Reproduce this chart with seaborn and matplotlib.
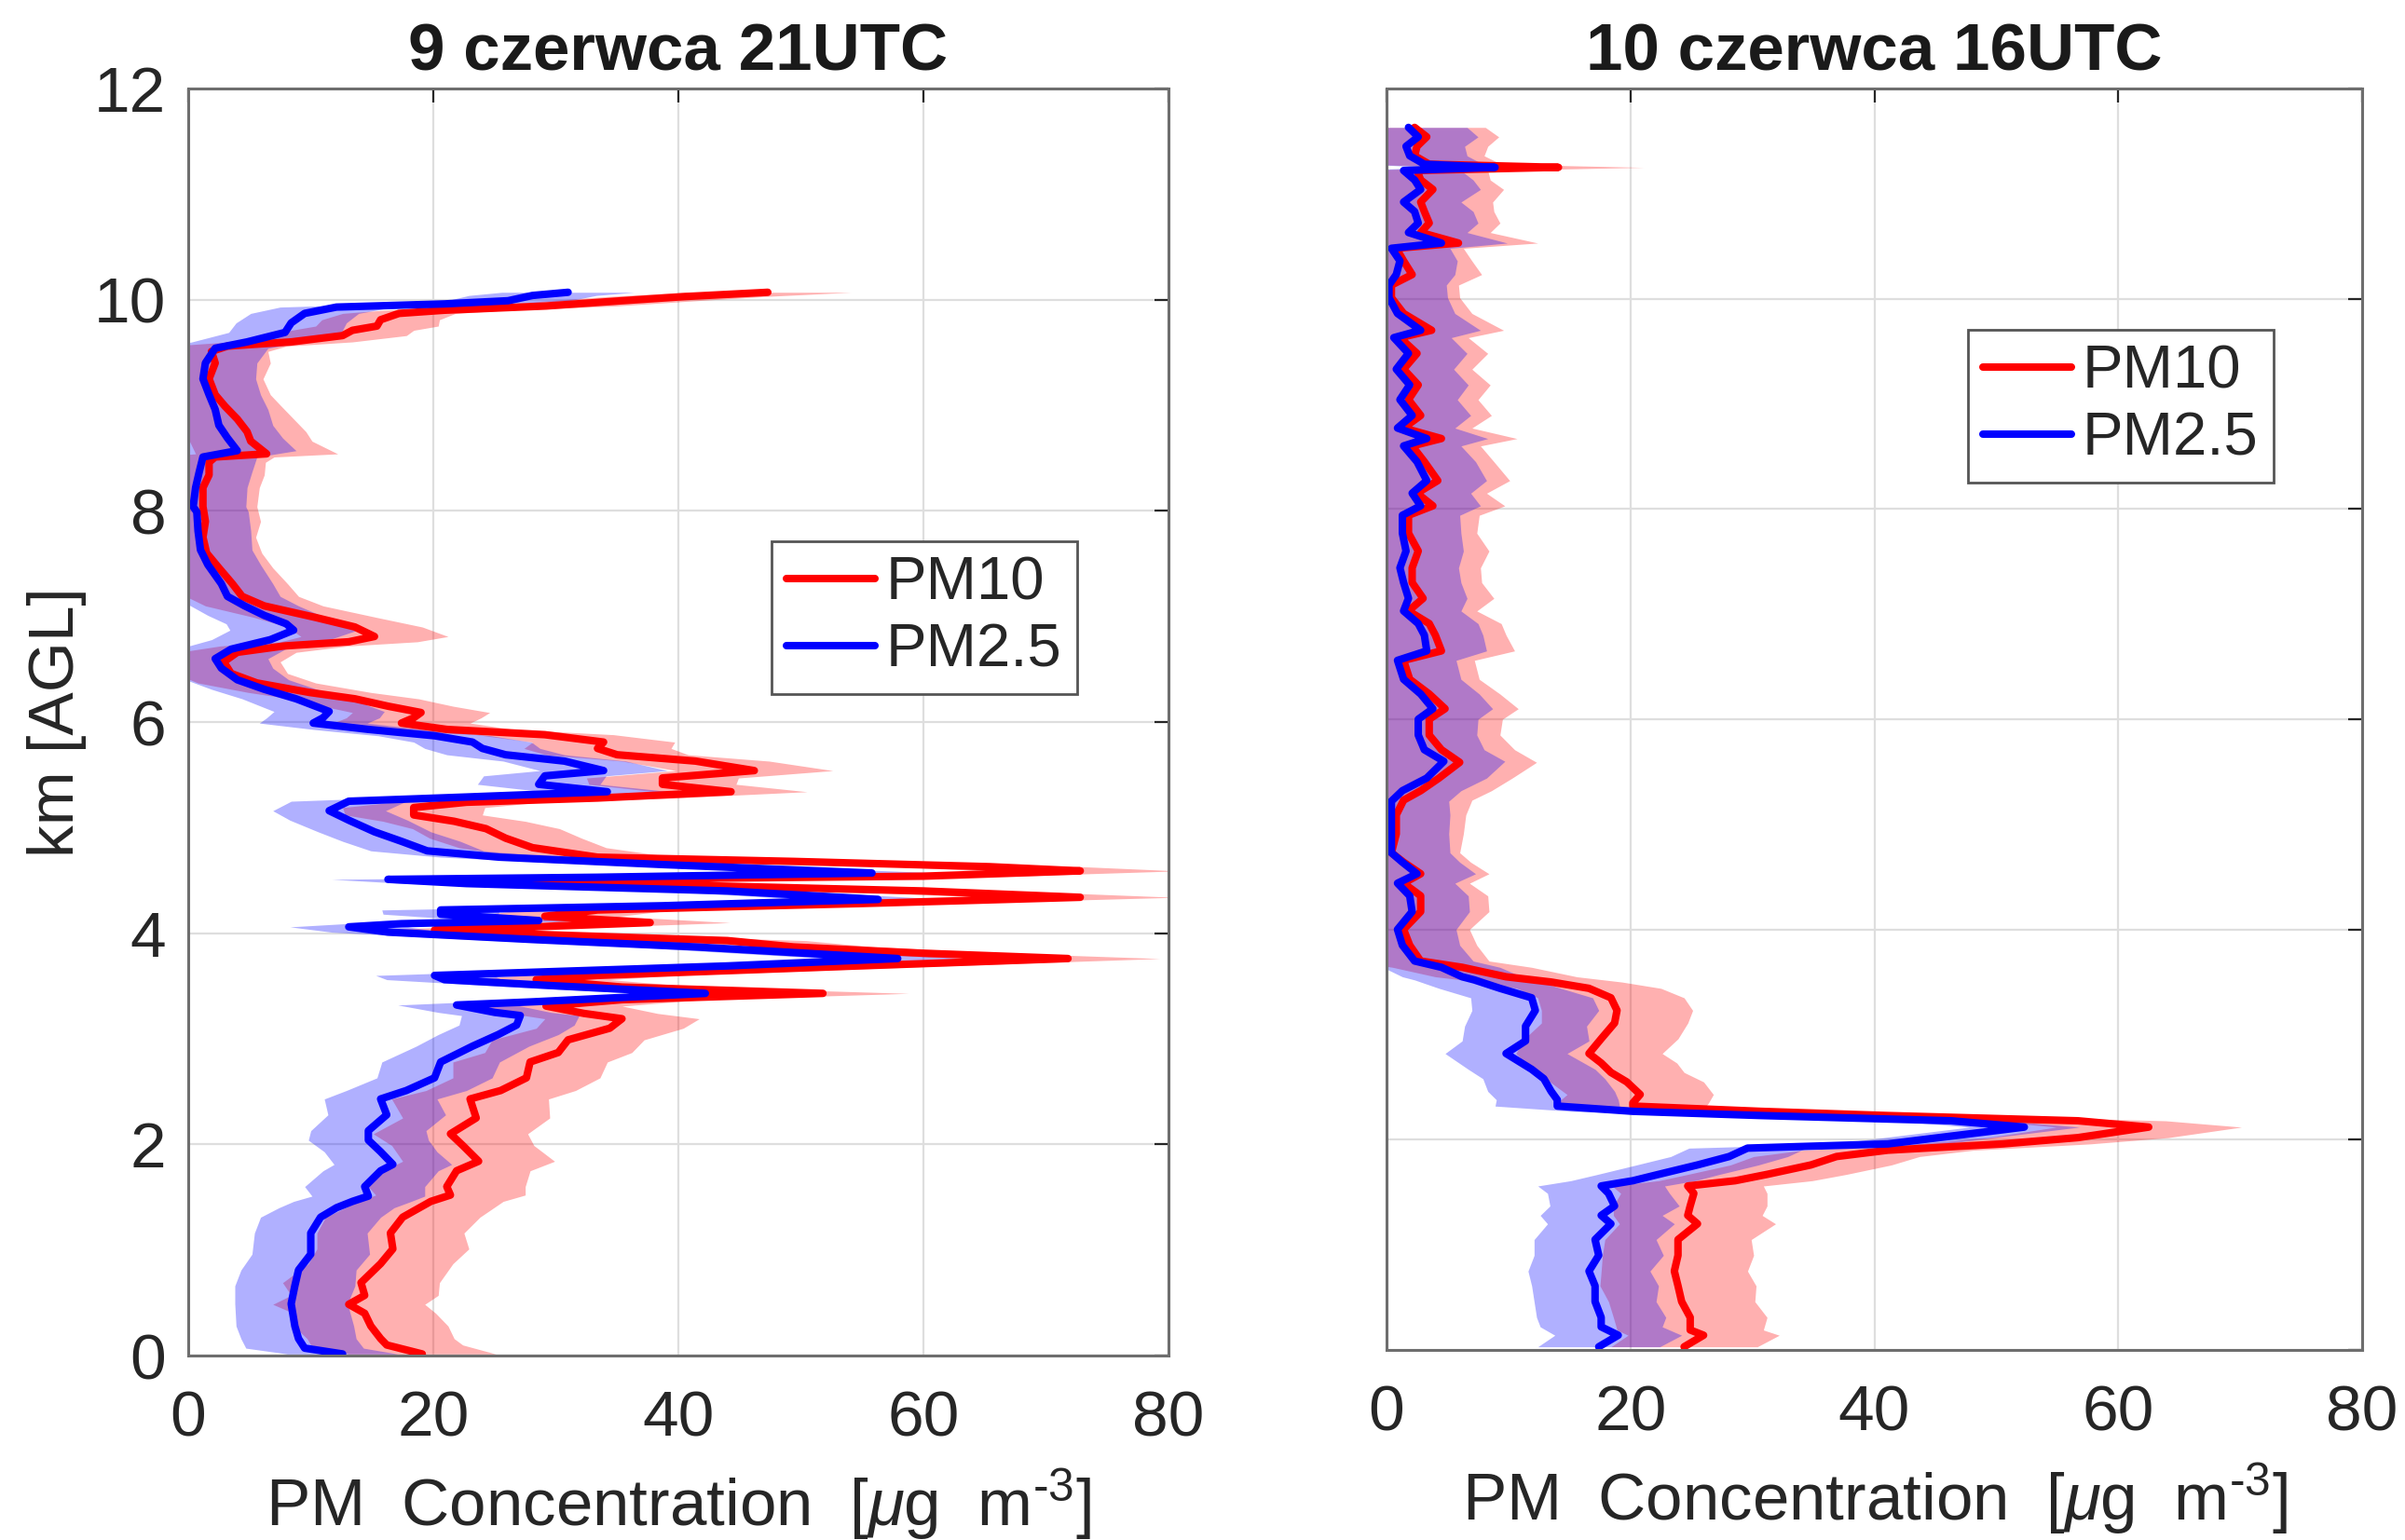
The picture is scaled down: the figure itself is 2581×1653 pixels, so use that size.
import numpy as np
import matplotlib
matplotlib.use("Agg")
import matplotlib.pyplot as plt
from matplotlib.lines import Line2D
import seaborn as sns

# ---------------- data ----------------
titles = ["9 czerwca 21UTC", "10 czerwca 16UTC"]
series_labels = ["PM10", "PM2.5"]
x_ticks = [0, 20, 40, 60, 80]
y_ticks = [0, 2, 4, 6, 8, 10, 12]

# Left panel, PM10
L10_h = [0.015, 0.10, 0.16, 0.28, 0.40, 0.485, 0.57, 0.69, 0.87, 1.01,
         1.16, 1.31, 1.46, 1.52, 1.60, 1.75, 1.84, 1.99, 2.10, 2.25,
         2.43, 2.51, 2.63, 2.78, 2.87, 2.99, 3.10, 3.19, 3.24, 3.31,
         3.37, 3.43, 3.49, 3.56, 3.60, 3.69, 3.76, 3.81, 3.87, 3.93,
         3.99, 4.03, 4.06, 4.10, 4.16, 4.22, 4.28, 4.34, 4.40, 4.46,
         4.50, 4.54, 4.59, 4.63, 4.68, 4.72, 4.81, 4.90, 4.99, 5.06,
         5.12, 5.19, 5.24, 5.28, 5.34, 5.41, 5.47, 5.54, 5.63, 5.69,
         5.75, 5.81, 5.88, 5.93, 5.99, 6.04, 6.09, 6.15, 6.22, 6.28,
         6.37, 6.46, 6.57, 6.66, 6.72, 6.76, 6.81, 6.90, 6.99, 7.10,
         7.19, 7.31, 7.46, 7.60, 7.75, 7.90, 8.04, 8.22, 8.34, 8.46,
         8.51, 8.54, 8.66, 8.75, 8.87, 8.99, 9.10, 9.25, 9.40, 9.51,
         9.56, 9.60, 9.66, 9.71, 9.75, 9.81, 9.87, 9.90, 9.94, 9.99,
         10.03, 10.07]
L10_m = [19.1, 16.2, 15.7, 14.9, 14.4, 13.1, 14.4, 14.1, 15.7, 16.7,
         16.5, 17.5, 19.8, 21.4, 21.1, 21.9, 23.7, 22.4, 21.4, 23.5,
         23.0, 25.5, 27.6, 27.9, 30.2, 31.0, 34.4, 35.4, 32.3, 29.2,
         35.4, 51.8, 35.4, 28.4, 33.4, 54.7, 71.8, 60.0, 49.4, 44.0,
         28.1, 20.1, 28.1, 37.7, 29.1, 33.4, 54.7, 72.8, 60.0, 38.7,
         24.3, 60.0, 72.8, 65.4, 49.4, 33.4, 28.1, 25.9, 24.3, 21.7,
         18.4, 18.4, 22.7, 33.4, 44.3, 38.7, 38.7, 46.2, 41.4, 35.0,
         33.4, 33.9, 29.1, 21.1, 17.4, 18.4, 19.0, 16.3, 13.6, 9.9,
         5.6, 3.5, 2.9, 4.0, 7.8, 13.1, 15.2, 13.6, 10.4, 6.2,
         4.4, 3.6, 2.5, 1.5, 1.2, 1.4, 1.2, 1.2, 1.7, 1.7,
         2.2, 6.4, 5.1, 4.8, 4.0, 3.0, 2.2, 1.7, 2.2, 1.9,
         3.2, 8.4, 12.6, 13.4, 15.4, 15.7, 17.2, 20.9, 29.2, 35.4,
         40.6, 47.3]
L10_e = [6.0, 6.2, 6.0, 6.3, 5.8, 6.2, 6.0, 6.4, 5.9, 6.2,
         6.0, 6.3, 5.9, 6.1, 6.4, 6.0, 6.2, 5.8, 6.3, 6.0,
         6.4, 6.1, 6.0, 6.3, 6.0, 6.2, 6.0, 6.3, 6.0, 6.2,
         6.5, 7.0, 6.3, 6.0, 6.2, 7.0, 7.5, 7.0, 6.6, 6.4,
         6.0, 5.8, 6.0, 6.5, 6.0, 6.2, 7.0, 7.8, 7.2, 6.5,
         6.0, 7.2, 8.0, 7.5, 6.8, 6.2, 6.0, 6.2, 6.0, 5.8,
         5.6, 5.8, 6.0, 6.2, 6.2, 6.0, 6.2, 6.4, 6.0, 5.8,
         6.0, 5.8, 5.6, 5.4, 5.6, 5.5, 5.6, 5.3, 5.2, 5.0,
         4.8, 4.6, 4.6, 4.8, 5.2, 5.6, 6.0, 5.5, 5.0, 4.8,
         4.6, 4.5, 4.4, 4.5, 4.3, 4.5, 4.4, 4.6, 4.5, 4.6,
         4.8, 5.8, 5.0, 4.8, 4.6, 4.6, 4.5, 4.4, 4.5, 4.6,
         4.8, 5.0, 5.2, 5.0, 5.0, 4.8, 4.6, 5.0, 5.6, 6.0,
         6.4, 6.8]

# Left panel, PM2.5
L25_h = [0.015, 0.07, 0.16, 0.28, 0.49, 0.66, 0.81, 0.96, 1.16, 1.31,
         1.40, 1.46, 1.51, 1.60, 1.75, 1.81, 1.93, 2.04, 2.13, 2.28,
         2.43, 2.51, 2.63, 2.78, 2.93, 3.04, 3.13, 3.22, 3.25, 3.32,
         3.35, 3.43, 3.50, 3.56, 3.60, 3.69, 3.76, 3.87, 3.94, 4.01,
         4.06, 4.09, 4.12, 4.18, 4.22, 4.26, 4.32, 4.40, 4.47, 4.51,
         4.53, 4.57, 4.65, 4.72, 4.78, 4.87, 4.96, 5.07, 5.16, 5.25,
         5.29, 5.34, 5.41, 5.49, 5.54, 5.63, 5.69, 5.75, 5.81, 5.87,
         5.93, 5.99, 6.04, 6.10, 6.22, 6.31, 6.40, 6.51, 6.60, 6.69,
         6.78, 6.87, 6.93, 7.01, 7.10, 7.19, 7.31, 7.49, 7.63, 7.81,
         7.99, 8.04, 8.22, 8.37, 8.51, 8.57, 8.69, 8.81, 8.96, 9.10,
         9.25, 9.40, 9.54, 9.60, 9.69, 9.78, 9.87, 9.93, 9.96, 9.99,
         10.04, 10.07]
L25_m = [12.6, 9.5, 9.0, 8.7, 8.4, 8.7, 9.0, 10.0, 10.0, 10.8,
         12.1, 13.4, 14.7, 14.4, 15.7, 16.7, 15.7, 14.7, 14.7, 16.2,
         15.7, 17.8, 20.1, 20.6, 23.2, 25.3, 26.8, 27.1, 25.0, 21.9,
         28.1, 42.2, 30.2, 20.9, 20.1, 44.0, 57.9, 41.4, 28.1, 16.3,
         13.1, 17.4, 28.6, 20.6, 20.6, 38.7, 56.3, 44.0, 22.7, 16.3,
         33.4, 55.8, 38.7, 25.4, 19.5, 17.4, 15.2, 13.1, 11.5, 13.1,
         22.7, 34.2, 28.6, 29.1, 33.9, 30.7, 25.9, 24.0, 23.2, 20.1,
         14.7, 10.2, 11.0, 11.5, 8.8, 6.2, 4.0, 2.7, 2.2, 3.5,
         6.7, 8.6, 8.0, 6.2, 4.6, 3.2, 2.7, 1.6, 1.0, 0.8,
         0.7, 0.4, 0.6, 0.9, 1.2, 4.0, 3.2, 2.5, 2.2, 1.7,
         1.2, 1.4, 2.2, 4.8, 7.9, 8.4, 9.5, 12.1, 20.9, 26.1,
         28.1, 31.0]
L25_e = [4.5, 4.8, 4.7, 4.8, 4.6, 4.9, 4.7, 4.8, 4.6, 4.9,
         4.7, 4.8, 4.6, 4.9, 4.7, 4.8, 4.6, 4.9, 4.7, 4.8,
         4.6, 4.9, 4.7, 4.8, 4.6, 4.9, 4.7, 4.8, 4.6, 4.8,
         5.0, 5.4, 5.0, 4.7, 4.8, 5.4, 5.8, 5.2, 4.9, 4.6,
         4.8, 4.6, 5.0, 4.7, 4.8, 5.2, 5.8, 5.4, 4.8, 4.6,
         5.0, 5.8, 5.2, 4.8, 4.6, 4.8, 4.6, 4.8, 4.6, 4.7,
         4.9, 5.2, 5.0, 5.0, 5.2, 5.0, 4.8, 4.7, 4.8, 4.6,
         4.5, 4.4, 4.6, 4.5, 4.4, 4.3, 4.2, 4.2, 4.3, 4.4,
         4.8, 5.2, 4.9, 4.6, 4.4, 4.3, 4.2, 4.3, 4.2, 4.3,
         4.2, 4.3, 4.2, 4.3, 4.4, 4.8, 4.5, 4.4, 4.3, 4.2,
         4.3, 4.2, 4.3, 4.5, 4.6, 4.5, 4.4, 4.6, 4.8, 5.0,
         5.2, 5.4]

# Right panel, PM10
R10_h = [0.03, 0.14, 0.19, 0.31, 0.46, 0.61, 0.75, 0.90, 1.05, 1.20,
         1.28, 1.37, 1.49, 1.56, 1.61, 1.67, 1.76, 1.84, 1.90, 1.96,
         2.02, 2.12, 2.18, 2.23, 2.27, 2.32, 2.35, 2.43, 2.55, 2.64,
         2.73, 2.82, 2.96, 3.11, 3.23, 3.35, 3.44, 3.50, 3.55, 3.64,
         3.70, 3.85, 4.00, 4.17, 4.32, 4.44, 4.53, 4.64, 4.73, 4.91,
         5.09, 5.23, 5.32, 5.44, 5.59, 5.71, 5.85, 6.00, 6.10, 6.24,
         6.38, 6.56, 6.65, 6.80, 6.91, 7.03, 7.15, 7.30, 7.44, 7.60,
         7.77, 7.94, 8.03, 8.15, 8.27, 8.45, 8.60, 8.67, 8.77, 8.89,
         9.04, 9.18, 9.33, 9.48, 9.63, 9.70, 9.86, 10.01, 10.13, 10.23,
         10.36, 10.48, 10.53, 10.63, 10.72, 10.83, 10.92, 11.04, 11.13, 11.22,
         11.25, 11.28, 11.36, 11.45, 11.54, 11.63]
R10_m = [24.4, 26.0, 24.9, 24.9, 24.2, 23.9, 23.6, 23.9, 23.9, 25.5,
         24.7, 24.9, 25.2, 24.7, 28.6, 31.2, 34.8, 36.9, 41.1, 50.5,
         56.7, 62.5, 56.7, 41.1, 30.7, 20.2, 20.2, 20.8, 19.7, 18.4,
         17.6, 16.6, 17.6, 18.7, 18.9, 18.4, 16.6, 13.5, 9.8, 6.2,
         2.8, 1.9, 1.4, 2.8, 2.8, 1.4, 2.8, 1.4, 0.4, 0.8,
         0.8, 1.4, 2.8, 4.3, 6.0, 4.5, 3.5, 3.5, 4.8, 3.5,
         1.9, 1.4, 4.5, 4.0, 3.5, 1.8, 3.0, 2.1, 2.1, 2.6,
         1.8, 1.8, 3.8, 2.5, 4.2, 3.1, 2.1, 4.5, 1.4, 2.8,
         1.8, 2.6, 1.4, 2.5, 1.1, 3.7, 1.4, 0.4, 0.4, 2.1,
         1.4, 0.8, 5.9, 2.8, 3.5, 3.1, 2.8, 3.8, 2.8, 2.5,
         14.1, 3.5, 2.3, 2.5, 3.3, 2.3]
R10_e = [6.0, 6.2, 6.0, 6.3, 6.0, 6.4, 6.0, 6.2, 6.0, 6.4,
         6.1, 6.3, 6.0, 6.2, 6.3, 6.5, 6.6, 6.8, 7.0, 7.2,
         7.4, 7.6, 7.2, 6.8, 6.5, 6.0, 6.2, 6.0, 6.3, 6.0,
         6.2, 6.0, 6.3, 6.0, 6.2, 6.0, 5.9, 5.8, 5.8, 5.7,
         5.6, 5.5, 5.4, 5.6, 5.5, 5.4, 5.6, 5.5, 5.6, 5.5,
         5.7, 5.6, 5.8, 6.0, 6.3, 6.0, 5.8, 6.0, 6.0, 5.8,
         5.7, 5.8, 6.0, 5.8, 5.9, 5.6, 5.8, 5.7, 5.6, 5.8,
         5.6, 5.8, 5.9, 5.7, 5.9, 5.7, 5.6, 6.2, 5.6, 5.8,
         5.7, 5.9, 5.6, 5.8, 5.6, 5.9, 5.6, 5.6, 5.5, 5.7,
         5.6, 5.5, 6.5, 5.7, 5.8, 5.7, 5.9, 5.8, 5.7, 5.8,
         7.0, 5.9, 5.7, 5.8, 5.9, 5.8]

# Right panel, PM2.5
R25_h = [0.03, 0.14, 0.22, 0.31, 0.46, 0.61, 0.75, 0.90, 1.05, 1.20,
         1.28, 1.37, 1.49, 1.56, 1.61, 1.67, 1.76, 1.84, 1.92, 1.96,
         2.02, 2.12, 2.18, 2.23, 2.27, 2.32, 2.38, 2.46, 2.58, 2.67,
         2.82, 2.94, 3.08, 3.23, 3.35, 3.44, 3.52, 3.55, 3.64, 3.70,
         3.85, 4.00, 4.17, 4.32, 4.44, 4.53, 4.64, 4.73, 4.91, 5.09,
         5.22, 5.32, 5.44, 5.60, 5.71, 5.85, 6.00, 6.10, 6.24, 6.38,
         6.56, 6.65, 6.80, 6.91, 7.03, 7.15, 7.30, 7.44, 7.60, 7.77,
         7.94, 8.03, 8.15, 8.27, 8.45, 8.60, 8.67, 8.77, 8.89, 9.04,
         9.18, 9.33, 9.48, 9.63, 9.70, 9.86, 10.01, 10.13, 10.23, 10.36,
         10.48, 10.53, 10.63, 10.72, 10.83, 10.92, 11.04, 11.13, 11.22, 11.25,
         11.28, 11.36, 11.45, 11.54, 11.63]
R25_m = [17.4, 19.0, 17.6, 17.6, 17.1, 17.1, 16.6, 17.4, 17.1, 18.4,
         17.6, 18.7, 18.2, 17.6, 20.2, 22.3, 25.5, 28.1, 29.6, 41.1,
         45.3, 52.3, 46.3, 30.7, 20.2, 14.0, 14.0, 13.5, 12.9, 11.9,
         9.8, 11.4, 11.4, 12.2, 11.9, 9.3, 7.2, 6.2, 4.5, 2.3,
         1.3, 0.9, 2.1, 1.9, 0.9, 2.5, 1.3, 0.4, 0.4, 0.4,
         0.4, 1.3, 3.3, 4.7, 3.1, 2.6, 2.6, 3.8, 2.8, 1.4,
         0.9, 3.3, 3.1, 2.6, 1.4, 1.8, 1.4, 1.1, 1.6, 1.3,
         1.3, 2.8, 2.1, 3.3, 2.5, 1.4, 3.3, 0.9, 2.1, 1.1,
         1.9, 0.8, 1.8, 0.6, 2.8, 0.9, 0.2, 0.2, 0.8, 1.1,
         0.4, 4.5, 1.8, 2.6, 2.3, 1.4, 2.8, 2.3, 1.4, 8.9,
         3.1, 1.9, 1.6, 2.6, 1.8]
R25_e = [5.0, 5.2, 5.0, 5.3, 5.0, 5.2, 5.0, 5.3, 5.0, 5.2,
         5.0, 5.3, 5.0, 5.2, 5.1, 5.0, 5.0, 4.8, 4.8, 4.6,
         4.5, 4.5, 4.6, 4.8, 5.0, 5.1, 5.0, 5.2, 5.0, 5.2,
         5.0, 5.2, 5.0, 5.2, 5.0, 5.0, 4.9, 4.9, 4.8, 4.8,
         4.7, 4.8, 4.7, 4.8, 4.7, 4.8, 4.7, 4.8, 4.7, 4.8,
         4.7, 4.8, 4.9, 5.0, 4.9, 4.8, 4.9, 4.9, 4.8, 4.7,
         4.8, 4.9, 4.8, 4.9, 4.7, 4.8, 4.7, 4.8, 4.7, 4.8,
         4.7, 4.9, 4.8, 4.9, 4.8, 4.7, 5.0, 4.7, 4.8, 4.7,
         4.8, 4.7, 4.8, 4.7, 4.9, 4.7, 4.8, 4.7, 4.8, 4.7,
         4.8, 5.4, 4.8, 4.9, 4.8, 4.7, 4.9, 4.8, 4.7, 5.2,
         4.8, 4.7, 4.8, 4.9, 4.8]

# ---------------- style ----------------
sns.set_theme(style="white")
plt.rcParams["font.family"] = ["Liberation Sans", "DejaVu Sans"]
plt.rcParams["mathtext.fontset"] = "custom"
plt.rcParams["mathtext.rm"] = "Liberation Sans"
plt.rcParams["mathtext.it"] = "Liberation Sans:italic"
plt.rcParams["mathtext.bf"] = "Liberation Sans:bold"

TXT = "#262626"
RED = (1.0, 0.0, 0.0)
BLUE = (0.0, 0.0, 1.0)
FA = 0.31
LW = 5.8
FS = 50

fig = plt.figure(figsize=(25.81, 16.53), dpi=100)
ax1 = fig.add_axes([0.07827, 0.11978, 0.40759, 0.82275])
ax2 = fig.add_axes([0.57652, 0.12341, 0.40566, 0.81912])

panels = [
    (ax1, (L10_h, L10_m, L10_e), (L25_h, L25_m, L25_e), (0.0, 12.0), (0.595, 0.643)),
    (ax2, (R10_h, R10_m, R10_e), (R25_h, R25_m, R25_e), (0.03, 12.0), (0.596, 0.809)),
]

for i, (ax, s10, s25, ylim, legpos) in enumerate(panels):
    ax.set_axisbelow(True)
    ax.grid(True, color="#dedede", lw=1.6)
    for (h, m, e), col in ((s10, RED), (s25, BLUE)):
        h = np.asarray(h); m = np.asarray(m); e = np.asarray(e)
        ax.fill_betweenx(h, m - e, m + e, color=col, alpha=FA, lw=0)
        sns.lineplot(x=m, y=h, orient="y", sort=False, estimator=None,
                     color=col, lw=LW, ax=ax, legend=False)
    ax.set_xlim(0, 80)
    ax.set_ylim(*ylim)
    ax.set_xticks(x_ticks)
    ax.set_yticks(y_ticks)
    ax.tick_params(direction="in", length=11, width=1.6, colors=TXT,
                   labelsize=FS, top=True, right=True, pad=17)
    ax.tick_params(axis="x", pad=26)
    for sp in ax.spines.values():
        sp.set_color("#6e6e6e")
        sp.set_linewidth(2.2)
    ax.set_title(titles[i], fontsize=51, fontweight="bold", color="#1a1a1a", pad=14)
    ax.set_xlabel("PM  Concentration  [$\\mathit{\\mu}$g  m$^{\\mathregular{\u2010}3}$]",
                  fontsize=51, color=TXT, labelpad=14)
    handles = [Line2D([], [], color=RED, lw=LW), Line2D([], [], color=BLUE, lw=LW)]
    leg = ax.legend(handles, series_labels, loc="upper left", bbox_to_anchor=legpos,
                    fontsize=47, frameon=True, fancybox=False, framealpha=1,
                    edgecolor="#555555", handlelength=1.45, handletextpad=0.18,
                    borderpad=0.25, labelspacing=0.18, borderaxespad=0)
    leg.get_frame().set_linewidth(2)
    for t in leg.get_texts():
        t.set_color(TXT)
    ax.set_ylabel("")

ax1.set_ylabel("km [AGL]", fontsize=FS, color=TXT, labelpad=6)
ax2.tick_params(labelleft=False)

fig.savefig("out.png", dpi=100)
